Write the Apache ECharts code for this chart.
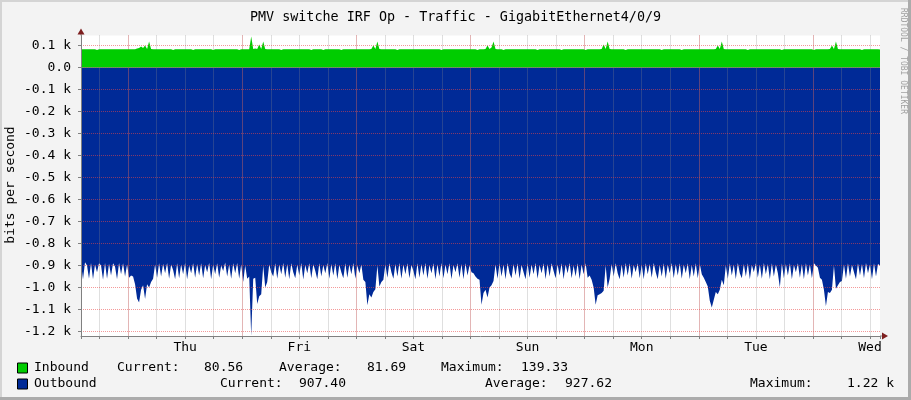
<!DOCTYPE html>
<html>
<head>
<meta charset="utf-8">
<script src="https://cdn.jsdelivr.net/npm/echarts@6/dist/echarts.min.js"></script>
<style>
html, body { margin: 0; padding: 0; background: #f3f3f3; }
#grid { width: 911px; height: 400px; }
</style>
</head>
<body>
<div id="grid"></div>
<script>
// one sample every ~25 min, Wed 14:00 -> Wed 14:00 (bits per second)
const inbound = [
    82,82,82,82,82,82,82,82,79,82, 82,82,82,82,82,82,82,82,82,82,
    82,82,82,82,82,82,82,82,86,88, 95,88,100,84,118,84,82,82,82,82,
    82,82,82,82,82,82,79,82,82,82, 82,82,82,82,82,82,79,82,82,82,
    82,82,82,82,82,82,79,82,82,82, 82,82,82,82,82,82,82,82,82,79,
    82,82,82,82,82,140,84,86,84,104, 84,118,84,82,82,82,82,82,82,82,
    79,82,82,82,82,82,82,82,82,82, 82,82,82,82,82,79,82,82,82,82,
    82,79,82,82,82,82,82,82,82,82, 79,82,82,82,82,82,82,82,82,82,
    82,82,82,82,82,84,100,84,118,84, 82,82,82,82,82,82,82,82,79,82,
    82,82,82,82,82,82,82,82,82,82, 82,82,82,82,82,82,82,82,82,82,
    79,82,82,82,82,82,82,82,82,82, 82,82,82,82,82,82,82,82,79,82,
    82,82,84,100,84,90,118,84,82,82, 82,79,82,82,82,82,82,82,82,82,
    82,82,82,82,82,82,82,82,79,82, 82,82,82,82,82,82,82,82,82,82,
    79,82,82,82,82,82,82,82,82,82, 82,82,79,82,82,82,82,82,82,82,
    84,104,84,118,84,82,82,82,82,82, 82,82,79,82,82,82,82,82,82,82,
    82,82,82,82,82,82,82,82,82,82, 79,82,82,82,82,82,82,82,82,82,
    79,82,82,82,82,82,82,82,82,82, 82,82,82,82,82,82,82,84,100,84,
    118,84,82,82,82,82,82,82,82,82, 82,82,82,79,82,82,82,82,82,82,
    82,82,82,82,82,82,82,82,82,82, 79,82,82,82,82,82,82,82,82,82,
    82,82,82,82,82,82,79,82,82,82, 82,82,82,82,84,100,84,118,84,82,
    82,82,82,82,82,82,82,82,82,82, 79,82,82,82,82,82,82,82,82,81
];

const outbound = [
    890,963,885,900,960,888,962,895,930,890, 900,965,888,960,892,945,890,905,962,888,
    940,890,950,895,955,945,950,985,1050,1068, 1010,990,1052,985,1000,975,960,895,955,890,
    950,892,935,888,960,895,920,962,890,958, 895,940,888,962,900,935,890,955,893,945,
    890,958,898,930,888,962,895,940,890,955, 900,925,886,950,895,960,890,935,888,960,
    895,975,900,960,950,1220,960,955,1075,1040, 1030,900,1000,975,895,930,950,890,960,895,
    940,888,955,893,962,890,930,958,895,945, 888,963,898,935,890,958,894,925,962,890,
    950,897,935,888,960,893,945,890,962,898, 930,958,890,955,895,940,888,960,900,935,
    895,965,975,1080,1030,1045,1020,1008,900,995, 975,965,895,955,890,930,960,893,950,888,
    960,895,940,890,958,897,925,962,890,955, 893,945,888,960,898,935,890,962,894,950,
    888,958,895,940,890,962,897,930,890,955, 893,962,890,945,900,930,935,950,960,965,
    1078,1025,1010,1045,1000,990,970,895,960,890, 950,895,962,888,935,958,893,945,890,960,
    897,930,962,890,955,895,940,888,960,898, 935,890,962,893,950,890,925,958,895,945,
    890,962,895,935,888,958,900,950,890,962, 895,940,890,955,945,965,1000,1078,1035,1030,
    1025,1015,900,1000,960,893,950,890,935,962, 895,955,888,945,890,960,898,930,890,958,
    895,962,890,940,893,955,888,930,962,897, 950,890,960,895,935,888,958,893,945,890,
    960,895,935,890,962,897,950,890,958,893, 940,955,975,995,1060,1090,1055,1020,1030,1010,
    965,990,900,960,890,945,895,962,888,935, 958,893,950,890,962,897,930,890,955,895,
    960,888,940,893,962,890,950,895,935,1000, 890,958,893,945,890,962,897,930,890,955,
    893,962,890,945,895,958,890,900,910,955, 965,1010,1085,1020,1025,1010,900,1005,990,975,
    970,895,960,890,950,897,930,962,890,945, 893,958,888,935,895,962,890,950,893,900
];

const dayLabels = ['Thu', 'Fri', 'Sat', 'Sun', 'Mon', 'Tue', 'Wed'];
const legendNames = ['Inbound', 'Outbound'];
const legendCurrent = ['80.56', '907.40'];
const legendAverage = ['81.69', '927.62'];
const legendMaximum = ['139.33', '1.22 k'];

const FONT = 'DejaVu Sans Mono';
const GREEN = '#00CC00';
const BLUE = '#002A97';
const MINOR = 'rgba(140,140,140,0.55)';
const MAJOR = 'rgba(235,70,70,0.55)';

// x in 6 hour steps, 0 = Thu 00:00
const X0 = -1.65, X1 = 26.35;
const Y0 = -1220, Y1 = 145;
const xs = inbound.map((v, i) => X0 + i * (X1 - X0) / (inbound.length - 1));

function txt(x, y, s, extra) {
    return Object.assign({
        type: 'text', x: x, y: y, silent: true,
        style: { text: s, font: '13px "' + FONT + '"', fill: '#000', textVerticalAlign: 'middle' }
    }, extra || {});
}

let legendGraphics = [];
const rowY = [368, 384];
const cols = [
    [117, 204, 279, 367, 441, 521],
    [220, 299, 485, 565, 750, 847]
];
[GREEN, BLUE].forEach(function (c, r) {
    legendGraphics.push({
        type: 'rect', silent: true,
        shape: { x: 17.5, y: rowY[r] - 5, width: 10, height: 10 },
        style: { fill: c, stroke: '#000', lineWidth: 1 }
    });
    legendGraphics.push(txt(34, rowY[r], legendNames[r]));
    legendGraphics.push(txt(cols[r][0], rowY[r], 'Current:'));
    legendGraphics.push(txt(cols[r][1], rowY[r], legendCurrent[r]));
    legendGraphics.push(txt(cols[r][2], rowY[r], 'Average:'));
    legendGraphics.push(txt(cols[r][3], rowY[r], legendAverage[r]));
    legendGraphics.push(txt(cols[r][4], rowY[r], 'Maximum:'));
    legendGraphics.push(txt(cols[r][5], rowY[r], legendMaximum[r]));
});

const baseGraphics = [
    { type: 'rect', silent: true, shape: { x: 0, y: 0, width: 911, height: 2 }, style: { fill: '#d4d4d4' } },
    { type: 'rect', silent: true, shape: { x: 0, y: 0, width: 2, height: 400 }, style: { fill: '#d4d4d4' } },
    { type: 'rect', silent: true, shape: { x: 0, y: 397, width: 911, height: 3 }, style: { fill: '#ababab' } },
    { type: 'rect', silent: true, shape: { x: 908, y: 0, width: 3, height: 400 }, style: { fill: '#ababab' } },
    txt(11, 185, 'bits per second', { rotation: Math.PI / 2, style: { text: 'bits per second', font: '13px "' + FONT + '"', fill: '#000', textAlign: 'center', textVerticalAlign: 'middle' } }),
    {
        type: 'text', x: 903, y: 8, rotation: -Math.PI / 2, silent: true,
        style: { text: 'RRDTOOL / TOBI OETIKER', font: '8px "' + FONT + '"', fill: '#a0a0a0', textAlign: 'left', textVerticalAlign: 'middle' }
    }
].concat(legendGraphics);

option = {
    animation: false,
    backgroundColor: '#f3f3f3',
    title: {
        text: 'PMV switche IRF Op - Traffic - GigabitEthernet4/0/9',
        left: 'center',
        top: 6,
        textStyle: { fontFamily: FONT, fontSize: 13.4, fontWeight: 'normal', color: '#000' }
    },
    grid: {
        left: 81, right: 31, top: 35.5, bottom: 64,
        show: true, backgroundColor: '#fff', borderWidth: 0
    },
    xAxis: [{
        type: 'value', min: X0, max: X1, splitNumber: 28, position: 'bottom', z: 3,
        axisLine: { onZero: false, lineStyle: { color: '#808080' } },
        axisTick: { show: true, length: 3, lineStyle: { color: '#808080' } },
        axisLabel: { show: false },
        splitLine: { show: true, showMinLine: false, showMaxLine: false, lineStyle: { type: 'dotted', color: MINOR } }
    }, {
        type: 'value', min: X0 / 4, max: X1 / 4, splitNumber: 7, position: 'bottom', z: 3,
        axisLine: { show: false, onZero: false },
        axisTick: { show: false },
        axisLabel: { show: false },
        splitLine: { show: true, showMinLine: false, showMaxLine: false, lineStyle: { type: 'dotted', color: MAJOR } }
    }, {
        type: 'value', min: X0 / 4 + 0.5, max: X1 / 4 + 0.5, splitNumber: 7, position: 'bottom', z: 3,
        axisLine: { show: false, onZero: false },
        axisTick: { show: false },
        splitLine: { show: false },
        axisLabel: {
            showMinLabel: false, showMaxLabel: false, margin: 5,
            fontFamily: FONT, fontSize: 13, color: '#000',
            formatter: function (v) { return dayLabels[Math.round(v) - 1] || ''; }
        }
    }],
    yAxis: {
        type: 'value', min: Y0, max: Y1, splitNumber: 14, z: 5,
        axisLine: { show: true, onZero: false, lineStyle: { color: '#808080' } },
        axisTick: { show: true, length: 3, lineStyle: { color: '#808080' } },
        axisLabel: {
            margin: 10, showMinLabel: false, showMaxLabel: false,
            fontFamily: FONT, fontSize: 13, color: '#000',
            formatter: function (v) { return v === 0 ? '0.0' : (v / 1000).toFixed(1) + ' k'; }
        },
        splitLine: { show: true, showMinLine: false, showMaxLine: false, lineStyle: { type: 'dotted', color: MAJOR } }
    },
    series: [{
        name: 'Outbound', type: 'line', xAxisIndex: 0, yAxisIndex: 0, z: 2, silent: true,
        symbol: 'none', lineStyle: { width: 0 },
        areaStyle: { color: BLUE, opacity: 1 },
        data: xs.map((x, i) => [x, -outbound[i]])
    }, {
        name: 'Inbound', type: 'line', xAxisIndex: 0, yAxisIndex: 0, z: 4, silent: true,
        symbol: 'none', lineStyle: { width: 0 },
        areaStyle: { color: GREEN, opacity: 1 },
        data: xs.map((x, i) => [x, inbound[i]])
    }],
    graphic: baseGraphics
};

let myChart = echarts.init(document.getElementById('grid'));
myChart.setOption(option);

// axis arrows, placed from the axis scales
let pTop = myChart.convertToPixel({ xAxisIndex: 0, yAxisIndex: 0 }, [X0, Y1]);
let pEnd = myChart.convertToPixel({ xAxisIndex: 0, yAxisIndex: 0 }, [X1, Y0]);
const ARROW = '#7d1f1f';
myChart.setOption({
    graphic: baseGraphics.concat([
        { type: 'line', silent: true, shape: { x1: pTop[0], y1: pTop[1], x2: pTop[0], y2: pTop[1] - 3 }, style: { stroke: '#808080' } },
        { type: 'polygon', silent: true, shape: { points: [[pTop[0] - 3.5, pTop[1] - 1], [pTop[0] + 3.5, pTop[1] - 1], [pTop[0], pTop[1] - 7]] }, style: { fill: ARROW } },
        { type: 'line', silent: true, shape: { x1: pEnd[0], y1: pEnd[1], x2: pEnd[0] + 3, y2: pEnd[1] }, style: { stroke: '#808080' } },
        { type: 'polygon', silent: true, shape: { points: [[pEnd[0] + 2, pEnd[1] - 3.5], [pEnd[0] + 2, pEnd[1] + 3.5], [pEnd[0] + 8, pEnd[1]]] }, style: { fill: ARROW } }
    ])
});
</script>
</body>
</html>
